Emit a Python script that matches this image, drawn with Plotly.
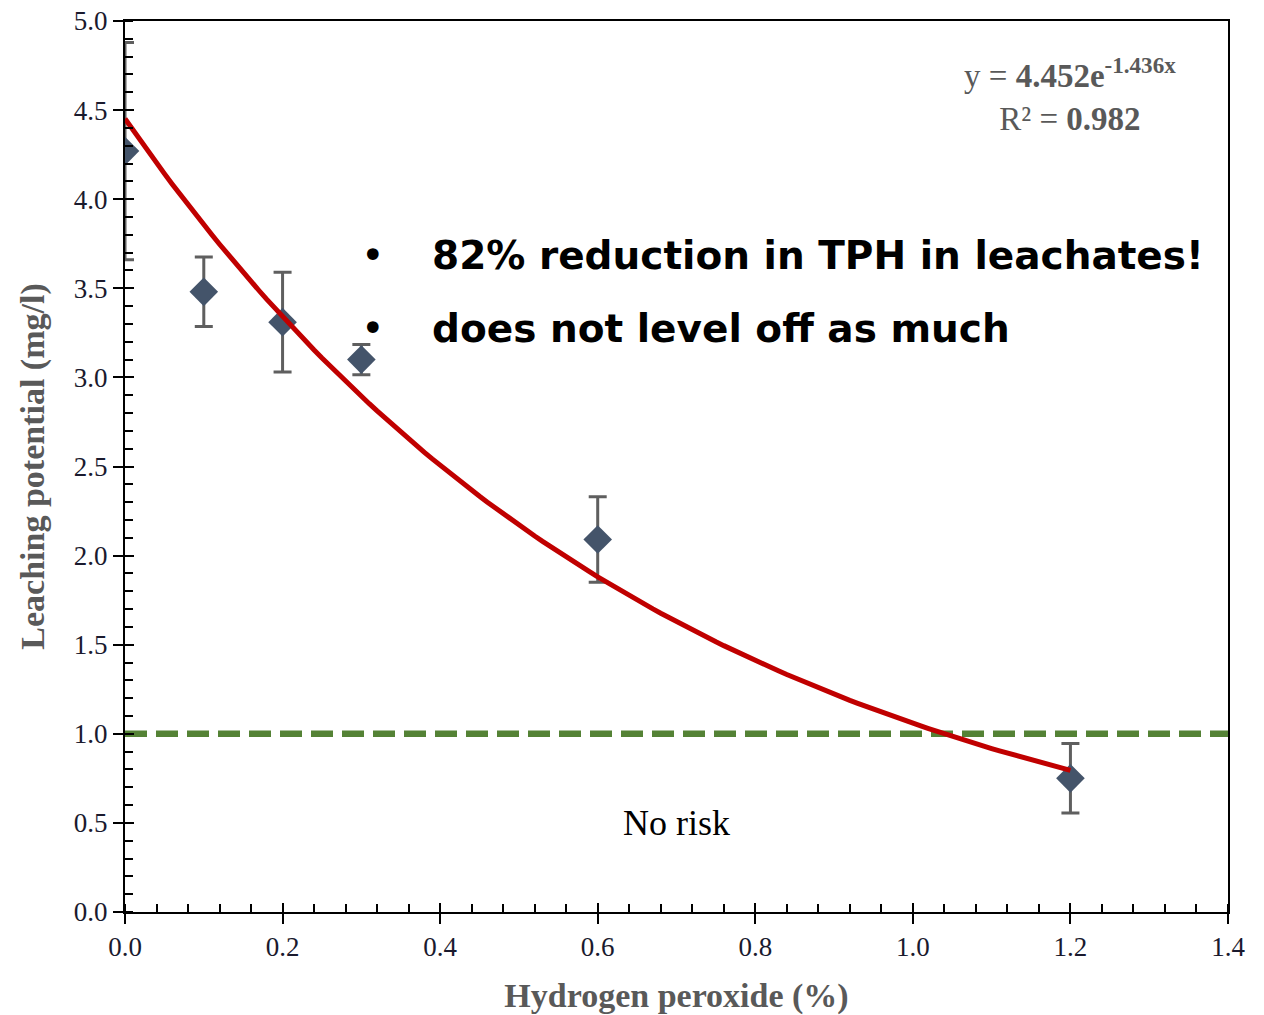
import numpy as np
import plotly.graph_objects as go

# Data
h2o2 = [0.0, 0.1, 0.2, 0.3, 0.6, 1.2]
leaching = [4.27, 3.48, 3.31, 3.10, 2.09, 0.75]
leach_err = [0.61, 0.195, 0.28, 0.085, 0.24, 0.195]
fit_a, fit_b = 4.452, -1.436
fit_x = list(np.linspace(0.0, 1.2, 121))
fit_y = [fit_a * np.exp(fit_b * v) for v in fit_x]
threshold_x = [0.0, 1.4]
threshold_y = [1.0, 1.0]
bullets = ["82% reduction in TPH in leachates!", "does not level off as much"]

serif = "Liberation Serif, Times New Roman, serif"
gray = "#595959"

fig = go.Figure()
fig.add_trace(go.Scatter(x=threshold_x, y=threshold_y, mode="lines",
                         line=dict(color="#548235", width=6.5, dash="22px,9px"),
                         showlegend=False, hoverinfo="skip"))
fig.add_trace(go.Scatter(x=h2o2, y=leaching, mode="markers",
                         marker=dict(symbol="diamond", size=22, color="#44546A"),
                         error_y=dict(type="data", array=leach_err, color="#5f5f5f",
                                      thickness=3, width=9),
                         showlegend=False))
fig.add_trace(go.Scatter(x=fit_x, y=fit_y, mode="lines",
                         line=dict(color="#C00000", width=5),
                         showlegend=False, hoverinfo="skip"))
# invisible trace to anchor the overlay axes (inner halves of major ticks)
fig.add_trace(go.Scatter(x=threshold_x, y=threshold_y, xaxis="x2", yaxis="y2",
                         mode="markers", marker=dict(opacity=0), showlegend=False,
                         hoverinfo="skip"))

axis_common = dict(showgrid=False, zeroline=False, showline=True, linecolor="black",
                   linewidth=2, mirror=True, ticks="outside", ticklen=10, tickwidth=2,
                   tickcolor="black", automargin=False,
                   tickfont=dict(family=serif, size=27, color="#1a1a2e"))
fig.update_layout(
    xaxis=dict(range=[0, 1.4], tick0=0, dtick=0.2, tickformat=".1f",
               minor=dict(ticks="inside", ticklen=8, tickwidth=1.5, dtick=0.04,
                          tickcolor="black"),
               title=dict(text="<b>Hydrogen peroxide (%)</b>", standoff=26,
                          font=dict(family=serif, size=34, color=gray)),
               **axis_common),
    yaxis=dict(range=[0, 5.0], tick0=0, dtick=0.5, tickformat=".1f",
               minor=dict(ticks="inside", ticklen=8, tickwidth=1.5, dtick=0.1,
                          tickcolor="black"),
               title=dict(text="<b>Leaching potential (mg/l)</b>", standoff=19,
                          font=dict(family=serif, size=34, color=gray)),
               **axis_common),
    xaxis2=dict(overlaying="x", matches="x", range=[0, 1.4], tick0=0, dtick=0.2,
                ticks="inside", ticklen=9, tickwidth=2, tickcolor="black",
                showticklabels=False, showgrid=False, zeroline=False, showline=False,
                anchor="y2", side="bottom", automargin=False),
    yaxis2=dict(overlaying="y", matches="y", range=[0, 5.0], tick0=0, dtick=0.5,
                ticks="inside", ticklen=9, tickwidth=2, tickcolor="black",
                showticklabels=False, showgrid=False, zeroline=False, showline=False,
                anchor="x2", side="left", automargin=False),
)

fig.add_annotation(x=0.857, y=0.968, xref="paper", yref="paper", xanchor="center",
                   yanchor="top", showarrow=False, align="center",
                   text="y = <b>4.452e<sup>-1.436x</sup></b><br>R² = <b>0.982</b>",
                   font=dict(family=serif, size=33, color=gray))
fig.add_annotation(x=0.70, y=0.5, xref="x", yref="y", showarrow=False,
                   text="No risk", font=dict(family=serif, size=36, color="black"))
for i, txt in enumerate(bullets):
    ypx = [255, 328][i]
    yp = (912 - ypx) / 891
    fig.add_annotation(x=(373 - 125) / 1103, y=yp, xref="paper", yref="paper",
                       xanchor="center", yanchor="middle", showarrow=False,
                       text="•", font=dict(family="DejaVu Sans, sans-serif", size=40,
                                           color="black"))
    fig.add_annotation(x=(430 - 125) / 1103, y=yp, xref="paper", yref="paper",
                       xanchor="left", yanchor="middle", showarrow=False,
                       text="<b>" + txt + "</b>",
                       font=dict(family="DejaVu Sans, sans-serif", size=39,
                                 color="black"))

fig.update_layout(width=1264, height=1015, plot_bgcolor="white", paper_bgcolor="white",
                  margin=dict(l=125, r=36, t=21, b=103))
fig.write_html("out.html")
